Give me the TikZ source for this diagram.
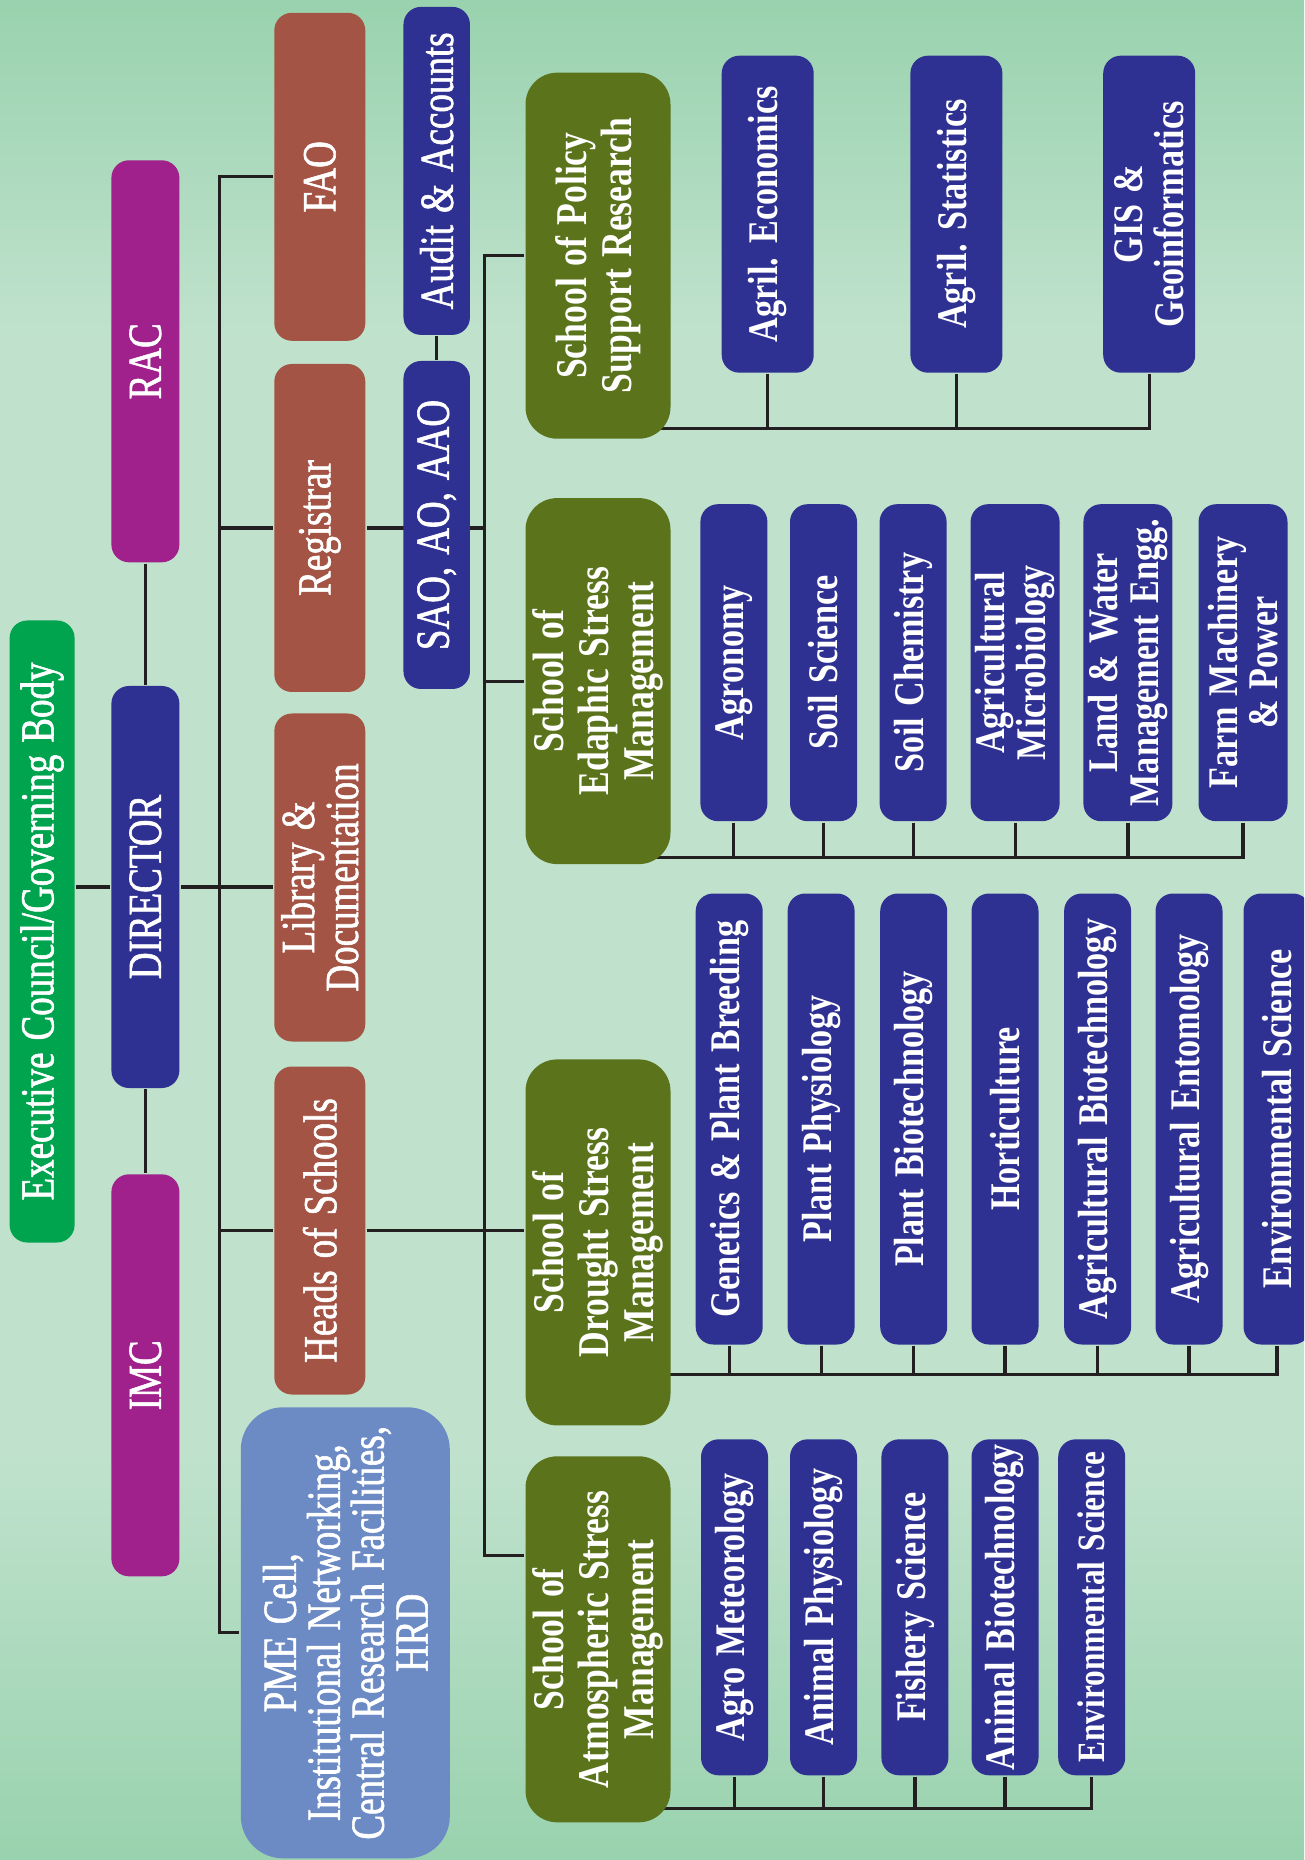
\documentclass[tikz,border=0pt]{standalone}
\usepackage{xcolor}
\usepackage{fontspec}
\usepackage{tikz}
\usetikzlibrary{positioning, backgrounds}
\newfontfamily\officefont[FakeStretch=0.78,FakeBold=1.2,WordSpace=1.3]{Liberation Serif}
\newfontfamily\unitfont[FakeStretch=0.81,WordSpace=1.3]{Liberation Serif}
\definecolor{councilgreen}{RGB}{0,163,78}
\definecolor{panelmagenta}{RGB}{160,33,139}
\definecolor{deptnavy}{RGB}{46,49,146}
\definecolor{officebrown}{RGB}{163,84,68}
\definecolor{cellblue}{RGB}{108,139,197}
\definecolor{schoololive}{RGB}{91,116,28}
\definecolor{linkgray}{RGB}{35,31,32}
\definecolor{bgdark}{RGB}{153,210,174}
\definecolor{bglight}{RGB}{192,226,205}
\pgfdeclareverticalshading{fieldbg}{100bp}{color(0bp)=(bgdark); color(25bp)=(bgdark); color(36bp)=(bglight); color(66bp)=(bglight); color(75bp)=(bgdark); color(100bp)=(bgdark)}

\begin{document}
\begin{tikzpicture}[
    thick,
    box/.style={rectangle,rotate=90,rounded corners=5pt,inner sep=0pt,align=center,text=white},
    council node/.style={box,fill=councilgreen,minimum width=6.22cm,minimum height=0.65cm,font=\officefont\fontsize{13.5}{12.5}\selectfont},
    panel node/.style={box,fill=panelmagenta,minimum width=4.02cm,minimum height=0.68cm,font=\officefont\fontsize{13.5}{12.5}\selectfont},
    chief node/.style={panel node,fill=deptnavy},
    office node/.style={box,fill=officebrown,minimum width=3.28cm,minimum height=0.91cm,font=\officefont\fontsize{13.5}{12.5}\selectfont},
    admin node/.style={box,fill=deptnavy,minimum width=3.28cm,minimum height=0.665cm,font=\officefont\fontsize{13.5}{12.5}\selectfont},
    cell node/.style={box,fill=cellblue,rounded corners=12pt,minimum width=4.51cm,minimum height=2.09cm,font=\officefont\fontsize{13.5}{12.5}\selectfont},
    school node/.style={box,fill=schoololive,rounded corners=9pt,minimum width=3.66cm,minimum height=1.45cm,font=\unitfont\bfseries\fontsize{12.5}{12.7}\selectfont},
    dept node/.style={box,fill=deptnavy,minimum height=0.67cm,font=\unitfont\bfseries\fontsize{12}{11.5}\selectfont},
    policy dept/.style={dept node,minimum width=3.17cm,minimum height=0.92cm},
    edaphic dept/.style={dept node,minimum width=3.17cm},
    drought dept/.style={dept node,minimum width=4.51cm},
    atmos dept/.style={dept node,minimum width=3.36cm},
    link/.style={draw=linkgray,line width=0.9pt}
]
\useasboundingbox (0,0) rectangle (13.04,-18.60);
\clip (0,0) rectangle (13.04,-18.60);

% Governing Body
\node[council node] (council) at (0.421,-9.315) {Executive Council/Governing Body};

% Director and Committees
\node[panel node] (rac) at (1.454,-3.613) {RAC};
\node[chief node] (director) at (1.454,-8.870) {DIRECTOR};
\node[panel node] (imc) at (1.454,-13.753) {IMC};

% Offices
\node[office node] (fao) at (3.198,-1.768) {FAO};
\node[office node] (registrar) at (3.198,-5.280) {Registrar};
\node[office node] (library) at (3.198,-8.775) {Library \&\\Documentation};
\node[office node] (heads) at (3.198,-12.305) {Heads of Schools};
\node[cell node] (pme) at (3.453,-16.328) {PME Cell,\\Institutional Networking,\\Central Research Facilities,\\HRD};

% Administration
\node[admin node] (audit) at (4.367,-1.709) {Audit \& Accounts};
\node[admin node] (sao) at (4.367,-5.250) {SAO, AO, AAO};

% Schools
\node[school node] (policy) at (5.980,-2.557) {School of Policy\\Support Research};
\node[school node] (edaphic) at (5.980,-6.811) {School of\\Edaphic Stress\\Management};
\node[school node] (drought) at (5.980,-12.424) {School of\\Drought Stress\\Management};
\node[school node] (atmos) at (5.980,-16.393) {School of\\Atmospheric Stress\\Management};

% Policy Support Research
\node[policy dept] (agecon) at (7.677,-2.142) {Agril. Economics};
\node[policy dept] (agstat) at (9.564,-2.142) {Agril. Statistics};
\node[policy dept] (gis) at (11.492,-2.142) {GIS \&\\Geoinformatics};

% Edaphic Stress Management
\node[edaphic dept] (agronomy) at (7.339,-6.627) {Agronomy};
\node[edaphic dept] (soilsci) at (8.235,-6.627) {Soil Science};
\node[edaphic dept] (soilchem) at (9.131,-6.627) {Soil Chemistry};
\node[edaphic dept,minimum height=0.89cm] (agmicro) at (10.151,-6.627) {Agricultural\\Microbiology};
\node[edaphic dept,minimum height=0.89cm] (landwater) at (11.279,-6.627) {Land \& Water\\Management Engg.};
\node[edaphic dept,minimum height=0.89cm] (farmpower) at (12.430,-6.627) {Farm Machinery\\\& Power};

% Drought Stress Management
\node[drought dept] (genetics) at (7.292,-11.190) {Genetics \& Plant Breeding};
\node[drought dept] (plantphys) at (8.211,-11.190) {Plant Physiology};
\node[drought dept] (plantbio) at (9.137,-11.190) {Plant Biotechnology};
\node[drought dept] (horti) at (10.050,-11.190) {Horticulture};
\node[drought dept] (agbiotech) at (10.976,-11.190) {Agricultural Biotechnology};
\node[drought dept] (agento) at (11.890,-11.190) {Agricultural Entomology};
\node[drought dept] (envsci) at (12.770,-11.190) {Environmental Science};

% Atmospheric Stress Management
\node[atmos dept] (agromet) at (7.345,-16.073) {Agro Meteorology};
\node[atmos dept] (animphys) at (8.235,-16.073) {Animal Physiology};
\node[atmos dept] (fishery) at (9.149,-16.073) {Fishery Science};
\node[atmos dept] (animbio) at (10.050,-16.073) {Animal Biotechnology};
\node[atmos dept,font=\unitfont\bfseries\fontsize{11}{11}\selectfont] (atmenv) at (10.917,-16.073) {Environmental Science};

% Bus lines
\coordinate (leftbus) at (2.195,0);
\coordinate (rightbus) at (4.841,0);
\coordinate (atmosjoin) at (4.841,-15.556);
\coordinate (policybus) at (0,-4.284);
\coordinate (edaphicbus) at (0,-8.579);
\coordinate (droughtbus) at (0,-13.741);
\coordinate (atmosbus) at (0,-18.084);

\begin{scope}[on background layer]
\shade[shading=fieldbg] (0,0) rectangle (13.04,-18.60);

% Top of the tree
\draw[link] (council.south |- director) -- (director.north);
\draw[link] (rac.west) -- (director.east);
\draw[link] (director.west) -- (imc.east);
\draw[link] (director.south) -- (director.south -| library.north);

% Offices
\draw[link] (fao.north) -| (leftbus |- pme.north) -- (pme.north);
\draw[link] (registrar.north) -- (registrar.north -| leftbus);
\draw[link] (heads.north) -- (heads.north -| leftbus);

% Administration and Schools
\draw[link] (audit.west) -- (sao.east);
\draw[link] (registrar.south) -- (registrar.south -| rightbus);
\draw[link] (heads.south) -- (heads.south -| drought.north);
\draw[link] (policy.north) -| (atmosjoin) -- (atmosjoin -| atmos.north);
\draw[link] (edaphic.north) -- (edaphic.north -| rightbus);

% Policy departments
\draw[link] (policy |- policybus) -- (gis |- policybus) -- (gis.west);
\draw[link] (agecon.west) -- (agecon |- policybus);
\draw[link] (agstat.west) -- (agstat |- policybus);

% Edaphic departments
\draw[link] (edaphic |- edaphicbus) -- (farmpower |- edaphicbus) -- (farmpower.west);
\draw[link] (agronomy.west) -- (agronomy |- edaphicbus);
\draw[link] (soilsci.west) -- (soilsci |- edaphicbus);
\draw[link] (soilchem.west) -- (soilchem |- edaphicbus);
\draw[link] (agmicro.west) -- (agmicro |- edaphicbus);
\draw[link] (landwater.west) -- (landwater |- edaphicbus);

% Drought departments
\draw[link] (drought |- droughtbus) -- (envsci |- droughtbus) -- (envsci.west);
\draw[link] (genetics.west) -- (genetics |- droughtbus);
\draw[link] (plantphys.west) -- (plantphys |- droughtbus);
\draw[link] (plantbio.west) -- (plantbio |- droughtbus);
\draw[link] (horti.west) -- (horti |- droughtbus);
\draw[link] (agbiotech.west) -- (agbiotech |- droughtbus);
\draw[link] (agento.west) -- (agento |- droughtbus);

% Atmospheric departments
\draw[link] (atmos |- atmosbus) -- (atmenv |- atmosbus) -- (atmenv.west);
\draw[link] (agromet.west) -- (agromet |- atmosbus);
\draw[link] (animphys.west) -- (animphys |- atmosbus);
\draw[link] (fishery.west) -- (fishery |- atmosbus);
\draw[link] (animbio.west) -- (animbio |- atmosbus);
\end{scope}

\end{tikzpicture}
\end{document}
